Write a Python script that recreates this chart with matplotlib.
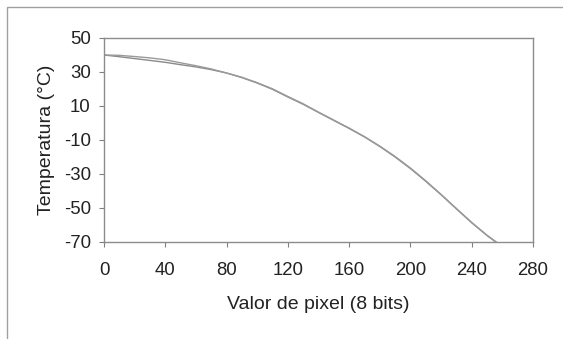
import matplotlib
matplotlib.use("Agg")
import matplotlib.pyplot as plt
from matplotlib.patches import Rectangle

plt.rcParams['font.family'] = ['Liberation Sans', 'DejaVu Sans']
plt.rcParams['axes.unicode_minus'] = False

# Measured (jagged) series
x_data = [0, 10, 20, 30, 40, 50, 60, 70, 80, 90, 100, 110, 120, 130, 140, 150,
          160, 170, 180, 190, 200, 210, 220, 230, 240, 250, 256]
t_data = [40.0, 39.8, 39.1, 38.3, 37.2, 35.4, 33.7, 31.8, 29.4, 26.9, 23.7, 20.1,
          15.6, 11.3, 6.4, 1.7, -3.0, -8.0, -13.6, -19.7, -26.5, -34.0, -42.0,
          -50.3, -58.5, -66.0, -70.0]

# Fitted (smooth) series
x_fit = [0, 10, 20, 30, 40, 50, 60, 70, 80, 90, 100, 110, 120, 130, 140, 150,
         160, 170, 180, 190, 200, 210, 220, 230, 240, 250, 256]
t_fit = [40.0, 39.0, 37.9, 36.8, 35.7, 34.3, 33.0, 31.4, 29.4, 26.7, 23.5, 19.8,
         15.3, 11.0, 6.2, 1.5, -3.2, -8.2, -13.8, -20.0, -26.8, -34.3, -42.2,
         -50.5, -58.7, -66.2, -70.2]

x_ticks = [0, 40, 80, 120, 160, 200, 240, 280]
y_ticks = [50, 30, 10, -10, -30, -50, -70]

fig = plt.figure(figsize=(5.63, 3.39), dpi=100)
fig.patch.set_facecolor('white')

# outer chart frame (extends beyond right/bottom edge)
fig.patches.append(Rectangle((7 / 563, -0.1), 1.2, 1.1 - 7 / 339,
                             transform=fig.transFigure, fill=False,
                             edgecolor='#a0a0a0', linewidth=1.0))

ax = fig.add_axes([104 / 563, 97 / 339, 429 / 563, 204 / 339])
ax.plot(x_fit, t_fit, color='#8a8a8a', linewidth=1.0)
ax.plot(x_data, t_data, color='#9a9a9a', linewidth=1.0)

ax.set_xlim(0, 280)
ax.set_ylim(-70, 50)
ax.set_xticks(x_ticks)
ax.set_yticks(y_ticks)
ax.tick_params(direction='out', length=3.5, width=0.8, color='#808080',
               labelsize=13.4, labelcolor='#222222')
ax.tick_params(axis='x', pad=11)
ax.tick_params(axis='y', pad=6)
for s in ax.spines.values():
    s.set_color('#8c8c8c')
    s.set_linewidth(1.0)

ax.set_xlabel('Valor de pixel (8 bits)', fontsize=14, color='#222222', labelpad=12)
ax.set_ylabel('Temperatura (°C)', fontsize=14, color='#222222', labelpad=6)

fig.savefig('out.png', dpi=100, facecolor='white')
